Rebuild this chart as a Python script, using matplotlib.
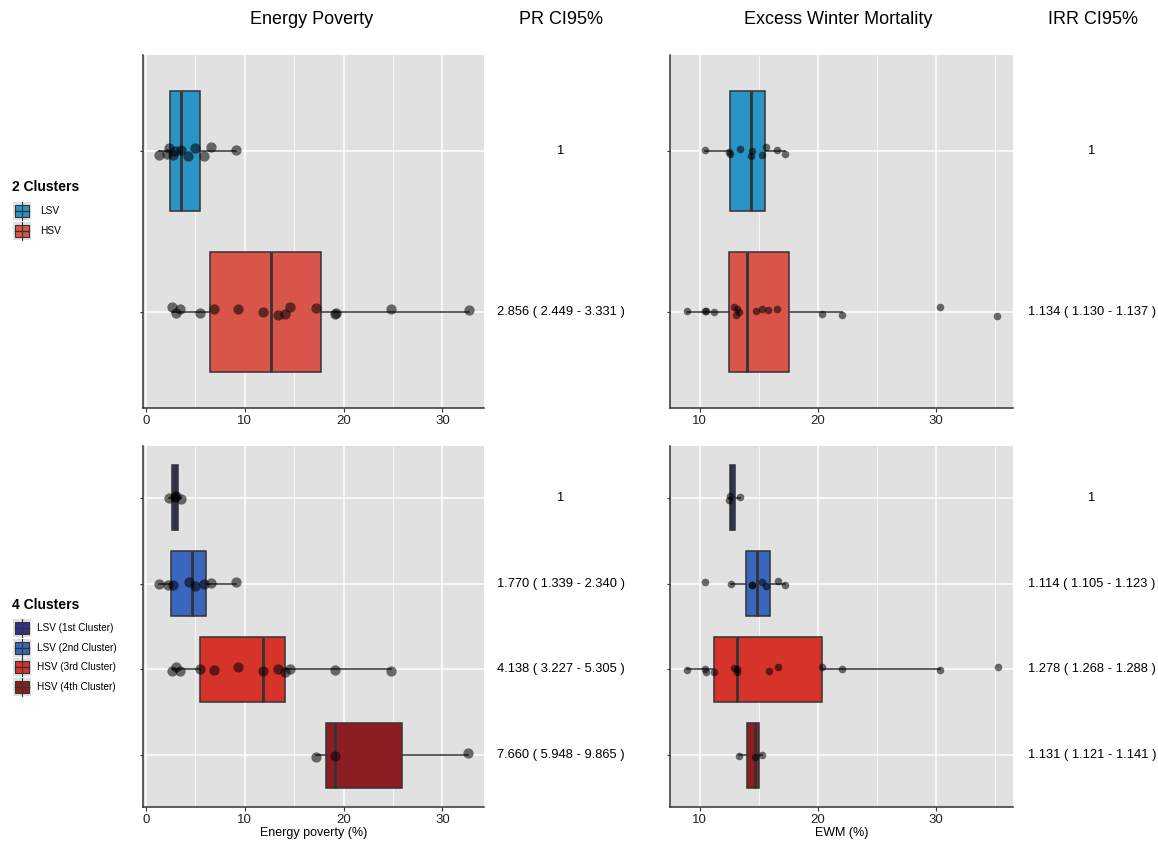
import matplotlib
matplotlib.use("Agg")
from matplotlib import pyplot as plt
from matplotlib.patches import Rectangle
from matplotlib.lines import Line2D
from matplotlib.transforms import blended_transform_factory
import numpy as np

plt.rcParams['font.family'] = ['Liberation Sans', 'DejaVu Sans']

# ---- data ----
groups2 = ["LSV", "HSV"]
groups4 = ["LSV (1st Cluster)", "LSV (2nd Cluster)", "HSV (3rd Cluster)", "HSV (4th Cluster)"]
colors2 = ["#2A94C6", "#DA5549"]
colors4 = ["#30318A", "#3A66BE", "#D6342B", "#8C1E23"]

# energy poverty, 2 clusters
ep2_lsv = [1.28, 2.1, 2.28, 2.7, 2.95, 3.5, 4.3, 4.97, 5.87, 6.6, 9.1]
ep2_lsv_jit = [0.025, 0.02, -0.02, 0.025, 0.0, -0.01, 0.03, -0.02, 0.03, -0.025, -0.01]
ep2_hsv = [2.68, 3.05, 3.49, 5.47, 6.85, 9.3, 11.8, 13.4, 14.1, 14.6, 17.2, 19.1, 19.2, 24.8, 32.65]
ep2_hsv_jit = [-0.03, 0.006, -0.02, 0.006, -0.02, -0.017, 0.0, 0.023, 0.012, -0.03, -0.023, 0.012, 0.006, -0.02, -0.012]
ep2_box = [(2.48, 3.56, 5.5, 1.28, 9.1), (6.5, 12.6, 17.7, 2.68, 32.65)]

# excess winter mortality, 2 clusters
ewm2_lsv = [10.5, 12.53, 12.6, 13.4, 14.36, 14.47, 15.3, 15.63, 16.58, 17.23]
ewm2_lsv_jit = [-0.006, 0.006, 0.02, -0.017, 0.03, 0.0, 0.023, -0.027, -0.01, 0.017]
ewm2_hsv = [8.93, 10.5, 10.56, 11.18, 12.93, 13.15, 13.1, 13.3, 14.73, 15.29, 15.82, 16.58, 20.32, 22.0, 30.3, 35.18]
ewm2_hsv_jit = [-0.006, -0.004, -0.004, 0.004, -0.03, -0.02, 0.02, 0.002, -0.004, -0.015, -0.013, -0.019, 0.017, 0.02, -0.03, 0.025]
ewm2_box = [(12.6, 14.36, 15.5, 10.5, 17.23), (12.48, 14.0, 17.54, 8.93, 22.0)]

# energy poverty, 4 clusters
ep4 = [[2.28, 2.95, 3.05, 3.55],
       [1.27, 2.2, 2.7, 4.32, 4.96, 5.83, 6.6, 9.1],
       [2.65, 3.05, 3.49, 5.47, 6.84, 9.3, 11.8, 13.4, 14.1, 14.55, 19.1, 24.8],
       [17.2, 19.15, 32.6]]
ep4_jit = [[0.0, -0.008, -0.015, 0.02],
           [0.0, 0.02, 0.02, -0.015, 0.03, 0.0, -0.004, -0.012],
           [0.02, -0.03, 0.02, -0.008, 0.008, -0.023, 0.02, -0.004, 0.03, -0.008, 0.008, 0.023],
           [0.023, 0.012, -0.027]]
ep4_box = [(2.68, 2.95, 3.29, 2.28, 3.55), (2.55, 4.63, 6.1, 1.27, 9.1),
           (5.47, 11.8, 14.1, 2.65, 24.8), (18.2, 19.15, 25.9, 17.2, 32.6)]

# excess winter mortality, 4 clusters
ewm4 = [[12.45, 12.56, 13.38],
        [10.5, 12.62, 14.42, 14.47, 15.3, 15.63, 16.6, 17.24],
        [8.93, 10.5, 10.56, 11.18, 12.93, 13.15, 13.2, 15.83, 16.6, 20.37, 22.03, 30.34, 35.2],
        [13.3, 14.7, 15.3]]
ewm4_jit = [[0.023, -0.015, -0.008],
            [-0.023, 0.0, 0.015, 0.012, -0.015, 0.023, -0.03, 0.015],
            [0.004, 0.0, 0.027, 0.027, -0.02, -0.004, 0.027, 0.023, -0.027, -0.023, 0.0, 0.004, -0.023],
            [0.008, 0.023, 0.0]]
ewm4_box = [(12.54, 12.62, 13.01, 12.45, 13.38), (13.94, 14.85, 15.92, 12.62, 17.24),
            (11.18, 13.18, 20.37, 8.93, 30.34), (14.0, 14.7, 15.01, 13.3, 15.3)]

pr2 = ["1", "2.856 ( 2.449 - 3.331 )"]
irr2 = ["1", "1.134 ( 1.130 - 1.137 )"]
pr4 = ["1", "1.770 ( 1.339 - 2.340 )", "4.138 ( 3.227 - 5.305 )", "7.660 ( 5.948 - 9.865 )"]
irr4 = ["1", "1.114 ( 1.105 - 1.123 )", "1.278 ( 1.268 - 1.288 )", "1.131 ( 1.121 - 1.141 )"]

W, H = 1158, 841
BG = "#E1E1E1"


def fx(px):
    return px / W


def fy(py):
    return 1 - py / H


def panel(ax, boxes, pts, jits, colors, xlim, ticks, minor, msize):
    n = len(boxes)
    pos = np.arange(1, n + 1)
    ax.set_facecolor(BG)
    for t in ticks:
        ax.axvline(t, color="white", lw=1.1, zorder=0)
    for t in minor:
        ax.axvline(t, color="white", lw=0.5, zorder=0)
    for p in pos:
        ax.axhline(p, color="white", lw=1.1, zorder=0)
    stats = [dict(q1=b[0], med=b[1], q3=b[2], whislo=b[3], whishi=b[4], fliers=[]) for b in boxes]
    bp = ax.bxp(stats, positions=pos, widths=0.75, orientation="horizontal",
                patch_artist=True, showcaps=False,
                boxprops=dict(edgecolor="#333333", linewidth=1.1),
                whiskerprops=dict(color="#333333", linewidth=1.1),
                medianprops=dict(color="#333333", linewidth=2.0), zorder=2)
    for patch, c in zip(bp["boxes"], colors):
        patch.set_facecolor(c)
    for i, (vals, jit) in enumerate(zip(pts, jits)):
        ax.scatter(vals, pos[i] + np.array(jit), s=msize, color="black", alpha=0.55,
                   linewidths=0, zorder=3)
    ax.set_xlim(*xlim)
    ax.set_ylim(n + 0.6, 0.4)
    ax.set_xticks(ticks)
    ax.set_yticks(pos)
    ax.set_yticklabels([])
    ax.tick_params(axis="x", labelsize=9.5, colors="#333333", labelcolor="#222222",
                   length=3, width=0.8, pad=2)
    ax.tick_params(axis="y", length=2, width=0.8, colors="#333333")
    for s in ["top", "right"]:
        ax.spines[s].set_visible(False)
    for s in ["left", "bottom"]:
        ax.spines[s].set_color("#333333")
        ax.spines[s].set_linewidth(1.1)
    ax.grid(False)


fig = plt.figure(figsize=(W / 100, H / 100), dpi=100)

lx0, lw = fx(143), fx(484) - fx(143)
rx0, rw = fx(670), fx(1013) - fx(670)
ty0, th = fy(408), fy(55) - fy(408)
by0, bh = fy(807), fy(446) - fy(807)

ax1 = fig.add_axes([lx0, ty0, lw, th])
ax2 = fig.add_axes([rx0, ty0, rw, th])
ax3 = fig.add_axes([lx0, by0, lw, bh])
ax4 = fig.add_axes([rx0, by0, rw, bh])

ep_lim = (-0.3, 34.2)
ewm_lim = (7.5, 36.5)
panel(ax1, ep2_box, [ep2_lsv, ep2_hsv], [ep2_lsv_jit, ep2_hsv_jit], colors2,
      ep_lim, [0, 10, 20, 30], [5, 15, 25], 55)
panel(ax2, ewm2_box, [ewm2_lsv, ewm2_hsv], [ewm2_lsv_jit, ewm2_hsv_jit], colors2,
      ewm_lim, [10, 20, 30], [15, 25, 35], 30)
panel(ax3, ep4_box, ep4, ep4_jit, colors4,
      ep_lim, [0, 10, 20, 30], [5, 15, 25], 55)
panel(ax4, ewm4_box, ewm4, ewm4_jit, colors4,
      ewm_lim, [10, 20, 30], [15, 25, 35], 30)

ax3.set_xlabel("Energy poverty (%)", fontsize=9, labelpad=1)
ax4.set_xlabel("EWM (%)", fontsize=9, labelpad=1)

# column headers
for x, t in [(312, "Energy Poverty"), (561, "PR CI95%"),
             (838, "Excess Winter Mortality"), (1093, "IRR CI95%")]:
    fig.text(fx(x), fy(20), t, ha="center", va="center", fontsize=13)

# estimate columns
for ax, labels, x in [(ax1, pr2, 561), (ax2, irr2, 1092), (ax3, pr4, 561), (ax4, irr4, 1092)]:
    tr = blended_transform_factory(fig.transFigure, ax.transData)
    for i, t in enumerate(labels):
        fig.text(fx(x), i + 1, t, transform=tr, ha="center", va="center", fontsize=9.3)


# legends drawn by hand
def key(y, color):
    fig.add_artist(Rectangle((fx(13), fy(y + 9)), fx(18), fy(y - 9) - fy(y + 9),
                             transform=fig.transFigure, facecolor=BG, edgecolor="none"))
    fig.add_artist(Line2D([fx(22), fx(22)], [fy(y + 9), fy(y - 9)], transform=fig.transFigure,
                          color="#333333", lw=0.8))
    fig.add_artist(Rectangle((fx(15), fy(y + 6)), fx(14), fy(y - 6) - fy(y + 6),
                             transform=fig.transFigure, facecolor=color, edgecolor="#333333", lw=0.8))
    fig.add_artist(Line2D([fx(15), fx(29)], [fy(y), fy(y)], transform=fig.transFigure,
                          color="#333333", lw=1.0))


fig.text(fx(12), fy(187), "2 Clusters", fontsize=10, fontweight="bold", va="center")
for i, (g, c) in enumerate(zip(groups2, colors2)):
    y = 211 + i * 20
    key(y, c)
    fig.text(fx(40), fy(y), g, fontsize=7.3, va="center")

fig.text(fx(12), fy(605), "4 Clusters", fontsize=10, fontweight="bold", va="center")
for i, (g, c) in enumerate(zip(groups4, colors4)):
    y = 628 + i * 19.7
    key(y, c)
    fig.text(fx(37), fy(y), g, fontsize=7.2, va="center")

fig.savefig("out.png", dpi=100)
